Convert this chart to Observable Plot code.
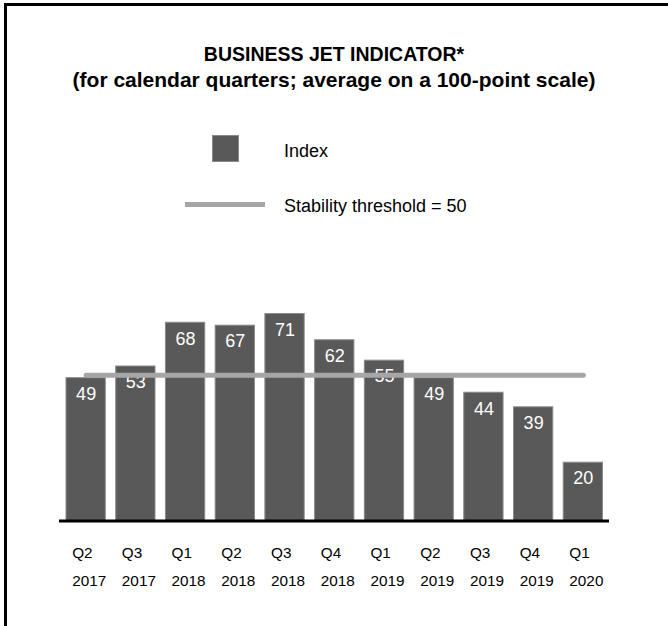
<!DOCTYPE html>
<html>
<head>
<meta charset="utf-8">
<script src="https://cdn.jsdelivr.net/npm/d3@7"></script>
<script src="https://cdn.jsdelivr.net/npm/@observablehq/plot@0.6"></script>
<style>
  html, body { margin: 0; padding: 0; background: #fff; }
  #page { position: relative; width: 668px; height: 626px; overflow: hidden; font-family: "Liberation Sans", Arial, sans-serif; color: #000; }
  #frame { position: absolute; left: 4px; top: 3px; right: -10px; bottom: -10px; border-left: 3px solid #000; border-top: 3px solid #000; }
  .t { position: absolute; left: 0; width: 668px; text-align: center; white-space: nowrap; }
  .lg { position: absolute; white-space: nowrap; font-size: 18px; line-height: 18px; }
  #chart { position: absolute; left: 0; top: 219px; }
</style>
</head>
<body>
<div id="page">
  <div class="t" id="title" style="top:44.5px;font-size:19.5px;line-height:19.5px;font-weight:bold;"></div>
  <div class="t" id="subtitle" style="top:69px;font-size:21px;line-height:21px;font-weight:bold;"></div>
  <div id="legendSwatch" style="position:absolute;left:212px;top:135px;width:25px;height:25px;background:#595959;border:1px solid #8a8a8a;"></div>
  <div class="lg" id="legend1" style="left:284px;top:142px;"></div>
  <div style="position:absolute;left:185px;top:201.5px;width:80px;height:5px;background:#a6a6a6;"></div>
  <div class="lg" id="legend2" style="left:284px;top:197px;"></div>
  <div id="chart"></div>
  <div id="frame"></div>
</div>
<script>
const titleText = "BUSINESS JET INDICATOR*";
const subtitleText = "(for calendar quarters; average on a 100-point scale)";
const seriesName = "Index";
const thresholdName = "Stability threshold = 50";
const quarters = ["Q2 2017","Q3 2017","Q1 2018","Q2 2018","Q3 2018","Q4 2018","Q1 2019","Q2 2019","Q3 2019","Q4 2019","Q1 2020"];
const values = [49, 53, 68, 67, 71, 62, 55, 49, 44, 39, 20];
const threshold = 50;

document.getElementById("title").textContent = titleText;
document.getElementById("subtitle").textContent = subtitleText;
document.getElementById("legend1").textContent = seriesName;
document.getElementById("legend2").textContent = thresholdName;

const data = quarters.map((q, i) => ({q, v: values[i]}));
const thr = [{q: quarters[0], v: threshold}, {q: quarters[quarters.length - 1], v: threshold}];

const chart = Plot.plot({
  width: 668,
  height: 380,
  marginTop: 10,
  marginBottom: 78.5,
  marginLeft: 59,
  marginRight: 59,
  style: {fontFamily: "'Liberation Sans', Arial, sans-serif", background: "transparent", color: "#000"},
  x: {domain: quarters, range: [66, 602.5], paddingInner: 0.21, paddingOuter: 0, round: false, axis: null},
  y: {domain: [0, 100], axis: null},
  marks: [
    Plot.barY(data, {x: "q", y: "v", fill: "#595959", stroke: "#8a8a8a", strokeWidth: 1}),
    Plot.ruleY([0], {stroke: "#000", strokeWidth: 3}),
    Plot.text(data, {x: "q", y: "v", text: d => String(d.v), fill: "#fff", fontSize: 18, dy: 16, lineAnchor: "middle"}),
    Plot.line(thr, {x: "q", y: "v", stroke: "#a6a6a6", strokeWidth: 5}),
    Plot.axisX({label: null, tickSize: 0, tickPadding: 17.5, fontSize: 15.3, textAnchor: "start", dx: -14, lineHeight: 1.8, tickFormat: d => d.replace(" ", "\n"), fill: "#000"})
  ]
});
document.getElementById("chart").appendChild(chart);
</script>
</body>
</html>
